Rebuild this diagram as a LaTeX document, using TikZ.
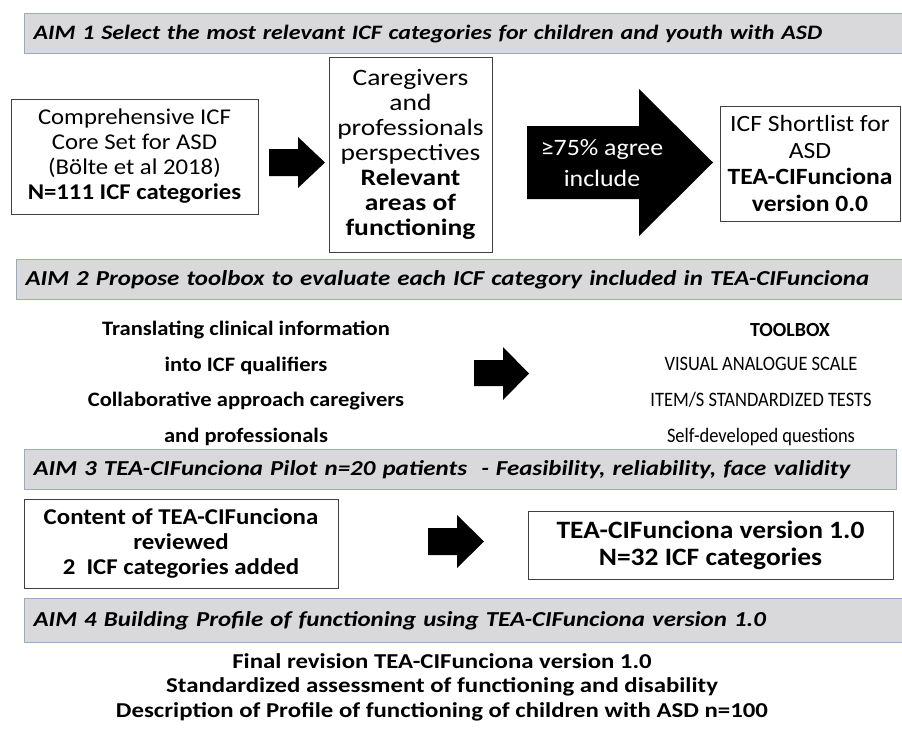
\documentclass[tikz,border=0pt]{standalone}
\usepackage{fontspec}
\setmainfont{Carlito}
\newfontfamily\widefont{Carlito}[FakeStretch=1.1]
\newfontfamily\narrowfont{Carlito}[FakeStretch=0.9]
\newfontfamily\stretchfont{Carlito}[FakeStretch=1.17]
\usetikzlibrary{positioning}
\definecolor{barfill}{RGB}{217,217,219}
\definecolor{barline}{RGB}{150,172,196}
\definecolor{boxline}{RGB}{64,64,64}

\begin{document}
\begin{tikzpicture}[x=1pt, y=-1pt,
    aimbar/.style={draw=barline, fill=barfill, line width=1.2pt, anchor=north west,
      minimum height=40, inner xsep=9, inner ysep=0, align=left,
      font=\stretchfont\fontsize{21.3}{25}\selectfont\bfseries\itshape},
    stepbox/.style={draw=boxline, line width=1pt, fill=white, align=center, inner sep=2pt},
    fatarrow/.style={fill=black}]
  \useasboundingbox[fill=white] (0,0) rectangle (902,736);

  % aim 1
  \node[aimbar, text width=868, font=\stretchfont\fontsize{20.5}{25}\selectfont\bfseries\itshape] (aim1) at (24,13)
    {AIM 1 Select the most relevant ICF categories for children and youth with ASD};
  \node[stepbox, font=\widefont\fontsize{22.5}{25}\selectfont, minimum width=247, minimum height=115] (coreset) at (134.5,156.5)
    {Comprehensive ICF\\Core Set for ASD\\(Bölte et al 2018)\\\textbf{N=111 ICF categories}};
  \node[stepbox, font=\stretchfont\fontsize{23.5}{25}\selectfont, minimum width=163, minimum height=195] (views) at (410.5,154.5)
    {Caregivers\\and\\professionals\\perspectives\\\textbf{Relevant}\\\textbf{areas of}\\\textbf{functioning}};
  \node[stepbox, font=\widefont\fontsize{23.3}{26.5}\selectfont, minimum width=180, minimum height=115] (shortlist) at (810,163.5)
    {ICF Shortlist for\\ASD\\\textbf{TEA-CIFunciona}\\\textbf{version 0.0}};
  \fill[fatarrow] (269,149) -- (298,149) -- (298,137) -- (325,162.5)
    -- (298,188) -- (298,176) -- (269,176) -- cycle;
  \fill[fatarrow] (527,126) -- (639,126) -- (639,89) -- (713,162.5)
    -- (639,236) -- (639,199) -- (527,199) -- cycle;
  \node[text=white, align=center, font=\widefont\fontsize{23.5}{31}\selectfont] (agree) at (602,163.5)
    {≥75\% agree\\include};

  % aim 2
  \node[aimbar, text width=876] (aim2) at (16,259)
    {AIM 2 Propose toolbox to evaluate each ICF category included in TEA-CIFunciona};
  \node[align=center, font=\widefont\fontsize{20.5}{35.7}\selectfont\bfseries] (translate) at (246,383.5)
    {Translating clinical information\\into ICF qualifiers\\Collaborative approach caregivers\\and professionals};
  \fill[fatarrow] (474,360) -- (503,360) -- (503,347) -- (529,373.5)
    -- (503,400) -- (503,386) -- (474,386) -- cycle;
  \node[font=\fontsize{20}{25}\selectfont\bfseries] (toolbox) at (790,330) {TOOLBOX};
  \node[align=center, font=\narrowfont\fontsize{20.5}{35.7}\selectfont] (tools) at (761,401.5)
    {VISUAL ANALOGUE SCALE\\ITEM/S STANDARDIZED TESTS\\Self-developed questions};

  % aim 3
  \node[aimbar, text width=854] (aim3) at (24,449)
    {AIM 3 TEA-CIFunciona Pilot n=20 patients\ \ - Feasibility, reliability, face validity};
  \node[stepbox, font=\widefont\fontsize{22.6}{25}\selectfont\bfseries, minimum width=314, minimum height=89] (review) at (181,543.5)
    {Content of TEA-CIFunciona\\reviewed\\2\ \ ICF categories added};
  \fill[fatarrow] (428,528) -- (457,528) -- (457,515) -- (484,541.5)
    -- (457,568) -- (457,555) -- (428,555) -- cycle;
  \node[stepbox, font=\widefont\fontsize{25}{27}\selectfont\bfseries, minimum width=365, minimum height=68] (version) at (710.5,545)
    {TEA-CIFunciona version 1.0\\N=32 ICF categories};

  % aim 4
  \node[aimbar, text width=868, minimum height=44] (aim4) at (24,598)
    {AIM 4 Building Profile of functioning using TEA-CIFunciona version 1.0};
  \node[align=center, font=\stretchfont\fontsize{21.2}{24.5}\selectfont\bfseries] (profile) at (442,687)
    {Final revision TEA-CIFunciona version 1.0\\Standardized assessment of functioning and disability\\Description of Profile of functioning of children with ASD n=100};
\end{tikzpicture}
\end{document}
